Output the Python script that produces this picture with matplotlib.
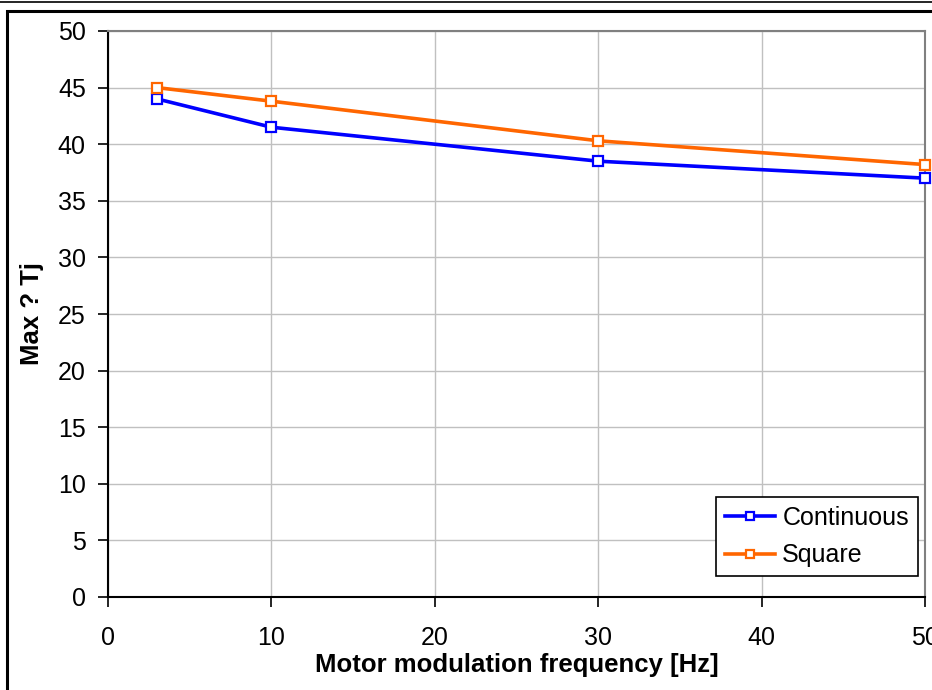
import matplotlib.pyplot as plt
from matplotlib.lines import Line2D
from matplotlib.patches import Rectangle

plt.rcParams["font.family"] = ["Liberation Sans", "DejaVu Sans"]

freq = [3, 10, 30, 50]
continuous = [44.0, 41.5, 38.5, 37.0]
square = [45.0, 43.8, 40.3, 38.2]
x_ticks = [0, 10, 20, 30, 40, 50]
y_ticks = [0, 5, 10, 15, 20, 25, 30, 35, 40, 45, 50]

fig = plt.figure(figsize=(9.32, 6.9), dpi=100)
ax = fig.add_axes([108 / 932, 1 - 597 / 690, 817 / 932, 566 / 690])

# outer frame + top rule
fig.add_artist(Line2D([0, 1], [1 - 1.5 / 690] * 2, color="black", lw=1.2, transform=fig.transFigure))
fig.add_artist(Rectangle((7 / 932, -0.05), 1.2, 1 - 11 / 690 + 0.05, fill=False,
                         edgecolor="black", lw=2.2, transform=fig.transFigure))

ax.plot(freq, continuous, color="#0000FF", lw=2.6, marker="s", ms=7,
        mfc="white", mec="#0000FF", mew=1.6, clip_on=False, zorder=5, label="Continuous")
ax.plot(freq, square, color="#FF6600", lw=2.6, marker="s", ms=7,
        mfc="white", mec="#FF6600", mew=1.6, clip_on=False, zorder=5, label="Square")

ax.set_xlim(0, 50)
ax.set_ylim(0, 50)
ax.set_xticks(x_ticks)
ax.set_yticks(y_ticks)
ax.grid(True, color="#C0C0C0", lw=1)
ax.set_axisbelow(True)
ax.tick_params(axis="both", labelsize=18, direction="out", length=7, width=1.2)
ax.tick_params(axis="y", pad=9)
ax.tick_params(axis="x", pad=14)

for s in ["top", "right"]:
    ax.spines[s].set_color("#808080")
    ax.spines[s].set_linewidth(1.5)
for s in ["left", "bottom"]:
    ax.spines[s].set_color("black")
    ax.spines[s].set_linewidth(1.5)

ax.set_xlabel("Motor modulation frequency [Hz]", fontsize=18.5, fontweight="bold", labelpad=2)
ax.set_ylabel("Max ? Tj", fontsize=18.5, fontweight="bold", labelpad=10)

leg = ax.legend(loc="lower right", bbox_to_anchor=(0.991, 0.037), fontsize=18,
                frameon=True, fancybox=False, edgecolor="black", framealpha=1,
                handlelength=2.0, handletextpad=0.3, borderpad=0.35, labelspacing=0.55,
                borderaxespad=0)
leg.get_frame().set_linewidth(1.2)
for h in leg.legend_handles:
    h.set_markersize(6)

fig.savefig("out.png", dpi=100)
